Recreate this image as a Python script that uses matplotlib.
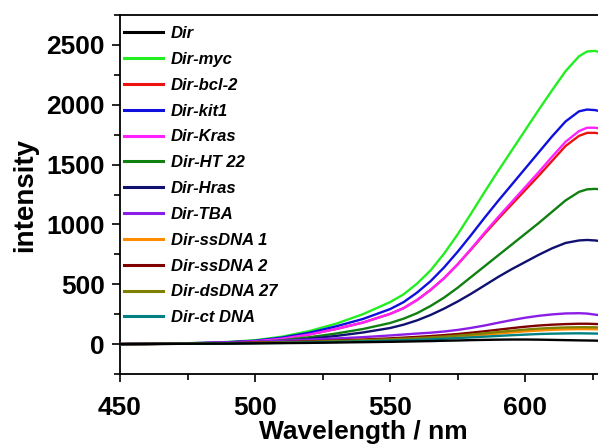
import matplotlib
matplotlib.use('Agg')
import matplotlib.pyplot as plt
from matplotlib.ticker import MultipleLocator

plt.rcParams['font.family'] = ['Liberation Sans', 'DejaVu Sans']

# wavelength sample points (nm)
wl = [450, 460, 470, 480, 490, 500, 510, 520, 530, 540, 550, 555, 560, 565, 570,
      575, 580, 585, 590, 595, 600, 605, 610, 615, 620, 623, 626, 628]

# intensities for each sample
dir_only = [0, 1, 2, 3, 4, 6, 8, 10, 13, 16, 19, 21, 23, 25, 28,
            30, 33, 35, 37, 38, 38, 37, 35, 33, 31, 30, 29, 28]
myc = [0, 2, 5, 10, 18, 32, 62, 108, 170, 250, 350, 415, 505, 615, 755,
       915, 1090, 1270, 1445, 1615, 1785, 1955, 2120, 2280, 2405, 2445, 2450, 2435]
bcl2 = [0, 1, 4, 7, 13, 23, 45, 80, 126, 180, 252, 300, 368, 452, 550,
        665, 790, 920, 1045, 1165, 1285, 1405, 1530, 1655, 1740, 1765, 1765, 1758]
kit1 = [0, 2, 4, 9, 16, 28, 54, 94, 148, 210, 292, 350, 430, 525, 640,
        770, 910, 1055, 1195, 1330, 1465, 1600, 1735, 1860, 1945, 1960, 1955, 1945]
kras = [0, 1, 4, 7, 13, 23, 45, 80, 126, 180, 252, 300, 368, 452, 550,
        665, 795, 930, 1060, 1185, 1310, 1435, 1565, 1690, 1780, 1808, 1808, 1800]
ht22 = [0, 1, 3, 5, 9, 16, 32, 57, 88, 126, 176, 212, 258, 318, 388,
        470, 560, 650, 740, 830, 920, 1010, 1105, 1200, 1272, 1293, 1297, 1293]
hras = [0, 1, 2, 4, 8, 14, 25, 44, 68, 97, 134, 162, 198, 243, 296,
        355, 420, 490, 560, 625, 685, 745, 800, 845, 866, 870, 866, 860]
tba = [0, 2, 5, 9, 14, 20, 28, 37, 47, 58, 72, 80, 88, 95, 105,
       118, 135, 155, 178, 200, 220, 236, 248, 256, 258, 255, 246, 240]
ssdna1 = [0, 1, 2, 4, 6, 9, 13, 17, 22, 28, 35, 39, 44, 49, 55,
          62, 70, 79, 88, 97, 106, 113, 119, 123, 125, 125, 124, 122]
ssdna2 = [0, 1, 3, 5, 8, 12, 17, 23, 30, 38, 48, 54, 60, 67, 75,
          84, 95, 107, 120, 133, 145, 155, 162, 167, 170, 170, 168, 167]
dsdna27 = [0, 1, 3, 5, 7, 10, 14, 19, 25, 32, 40, 45, 50, 56, 63,
           71, 80, 90, 101, 111, 121, 129, 135, 139, 141, 141, 140, 138]
ctdna = [0, 1, 2, 3, 5, 7, 10, 14, 18, 23, 29, 32, 36, 40, 45,
         50, 56, 62, 68, 74, 79, 84, 87, 89, 90, 89, 88, 87]

labels = ['Dir', 'Dir-myc', 'Dir-bcl-2', 'Dir-kit1', 'Dir-Kras', 'Dir-HT 22',
          'Dir-Hras', 'Dir-TBA', 'Dir-ssDNA 1', 'Dir-ssDNA 2', 'Dir-dsDNA 27', 'Dir-ct DNA']
series = [dir_only, myc, bcl2, kit1, kras, ht22, hras, tba, ssdna1, ssdna2, dsdna27, ctdna]
colors = ['#000000', '#22ee22', '#ee1111', '#1010dd', '#ff22ff', '#108010',
          '#101070', '#8a1ee6', '#ff8c00', '#800000', '#808000', '#008080']

fig = plt.figure(figsize=(5.98, 4.45), dpi=100)
ax = fig.add_axes([120/598, 71/445, 486/598, 359/445])

for i, (ys, lab, c) in enumerate(zip(series, labels, colors)):
    ax.plot(wl, ys, color=c, lw=1.7, label=lab, zorder=5 if i == 0 else 3)

ax.set_xlim(450, 630)
ax.set_ylim(-250, 2750)
ax.xaxis.set_major_locator(MultipleLocator(50))
ax.xaxis.set_minor_locator(MultipleLocator(25))
ax.yaxis.set_major_locator(MultipleLocator(500))
ax.yaxis.set_minor_locator(MultipleLocator(250))
ax.tick_params(which='major', length=6, width=1.2, labelsize=19)
ax.tick_params(which='minor', length=4, width=1.2)
ax.tick_params(axis='x', pad=10)
ax.tick_params(axis='y', pad=5)
for lbl in ax.get_xticklabels() + ax.get_yticklabels():
    lbl.set_fontweight('bold')
for s in ['left', 'bottom', 'top']:
    ax.spines[s].set_linewidth(1.3)
ax.spines['right'].set_visible(False)

ax.set_xlabel('Wavelength / nm', fontsize=19, fontweight='bold', labelpad=0)
ax.set_ylabel('intensity', fontsize=20, fontweight='bold', labelpad=6)

leg = ax.legend(loc='upper left', bbox_to_anchor=(4/486, 1 - 11/359), frameon=False,
                prop={'size': 12, 'weight': 'bold', 'style': 'italic'},
                handlelength=2.35, handletextpad=0.45, labelspacing=0.65,
                borderaxespad=0, borderpad=0)
for line in leg.get_lines():
    line.set_linewidth(2.2)

fig.savefig('out.png', dpi=100)
